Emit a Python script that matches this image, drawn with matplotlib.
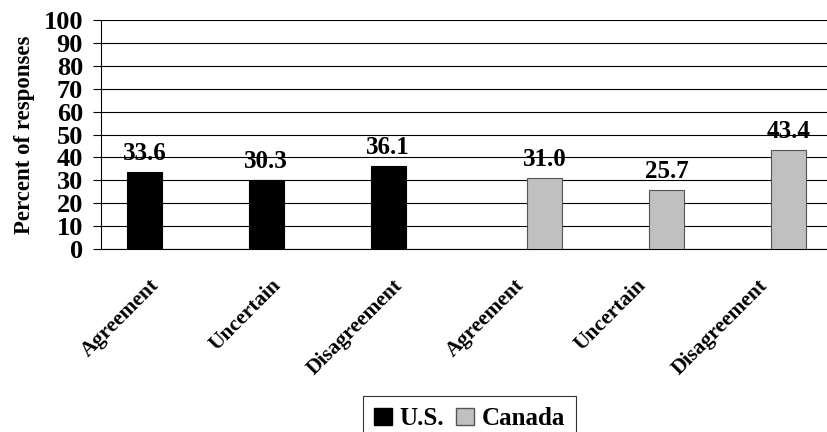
import numpy as np
import matplotlib
matplotlib.use('Agg')
import matplotlib.pyplot as plt
import matplotlib.transforms as mtransforms
from matplotlib.patches import Patch

plt.rcParams['font.family'] = ['Liberation Serif', 'DejaVu Serif']
plt.rcParams['font.weight'] = 'bold'

# Survey responses, percent
categories = ['Agreement', 'Uncertain', 'Disagreement',
              'Agreement', 'Uncertain', 'Disagreement']
us_values = [33.6, 30.3, 36.1]
canada_values = [31.0, 25.7, 43.4]
series_names = ['U.S.', 'Canada']
y_ticks = list(range(0, 101, 10))

fig = plt.figure(figsize=(8.28, 4.32), dpi=100)
ax = fig.add_axes([101 / 828, 1 - 249 / 432, 731 / 828, 229 / 432])

x = np.arange(len(categories))
w = 0.287
us_x = x[:3] - w / 2
ca_x = x[3:] + w / 2

ax.bar(us_x, us_values, width=w, color='black', edgecolor='black',
       linewidth=0.8, zorder=3)
ax.bar(ca_x, canada_values, width=w, color='#c0c0c0', edgecolor='#555555',
       linewidth=0.8, zorder=3)

for xs, vals in ((us_x, us_values), (ca_x, canada_values)):
    for xi, v in zip(xs, vals):
        ax.annotate(f'{v:.1f}', (xi, v), xytext=(0, 5), textcoords='offset points',
                    ha='center', va='bottom', fontsize=18, fontweight='bold')

ax.set_xlim(-0.5, 5.5)
ax.set_ylim(0, 100)
ax.set_yticks(y_ticks)
ax.set_yticklabels([str(t) for t in y_ticks], fontsize=19, fontweight='bold')
ax.tick_params(axis='y', direction='out', length=6, width=0.8, pad=7)
ax.yaxis.grid(True, color='black', linewidth=0.8, zorder=0)
ax.set_axisbelow(True)

ax.set_xticks(x)
ax.set_xticklabels(categories, rotation=45, ha='right', va='top',
                   rotation_mode='anchor', fontsize=15.5, fontweight='bold')
ax.tick_params(axis='x', length=0, pad=19)
# nudge the slanted category labels left of their tick positions
shift = mtransforms.ScaledTranslation(-13 / 100, 0, fig.dpi_scale_trans)
for lbl in ax.get_xticklabels():
    lbl.set_transform(lbl.get_transform() + shift)

for side in ('top', 'right'):
    ax.spines[side].set_visible(False)
ax.spines['left'].set_linewidth(0.8)
ax.spines['bottom'].set_linewidth(0.8)

ax.set_ylabel('Percent of responses', fontsize=16.5, fontweight='bold', labelpad=6)

handles = [Patch(facecolor='black', edgecolor='black'),
           Patch(facecolor='#c0c0c0', edgecolor='#555555')]
leg = fig.legend(handles, series_names, loc='upper center',
                 bbox_to_anchor=(469.5 / 828, 1 - 396 / 432), ncol=2,
                 prop={'size': 18, 'weight': 'bold'}, frameon=True,
                 fancybox=False, edgecolor='black', handlelength=0.7,
                 handleheight=0.7, handletextpad=0.3, columnspacing=0.5,
                 borderpad=0.45, borderaxespad=0)
leg.get_frame().set_linewidth(0.8)

fig.savefig('out.png', dpi=100)
